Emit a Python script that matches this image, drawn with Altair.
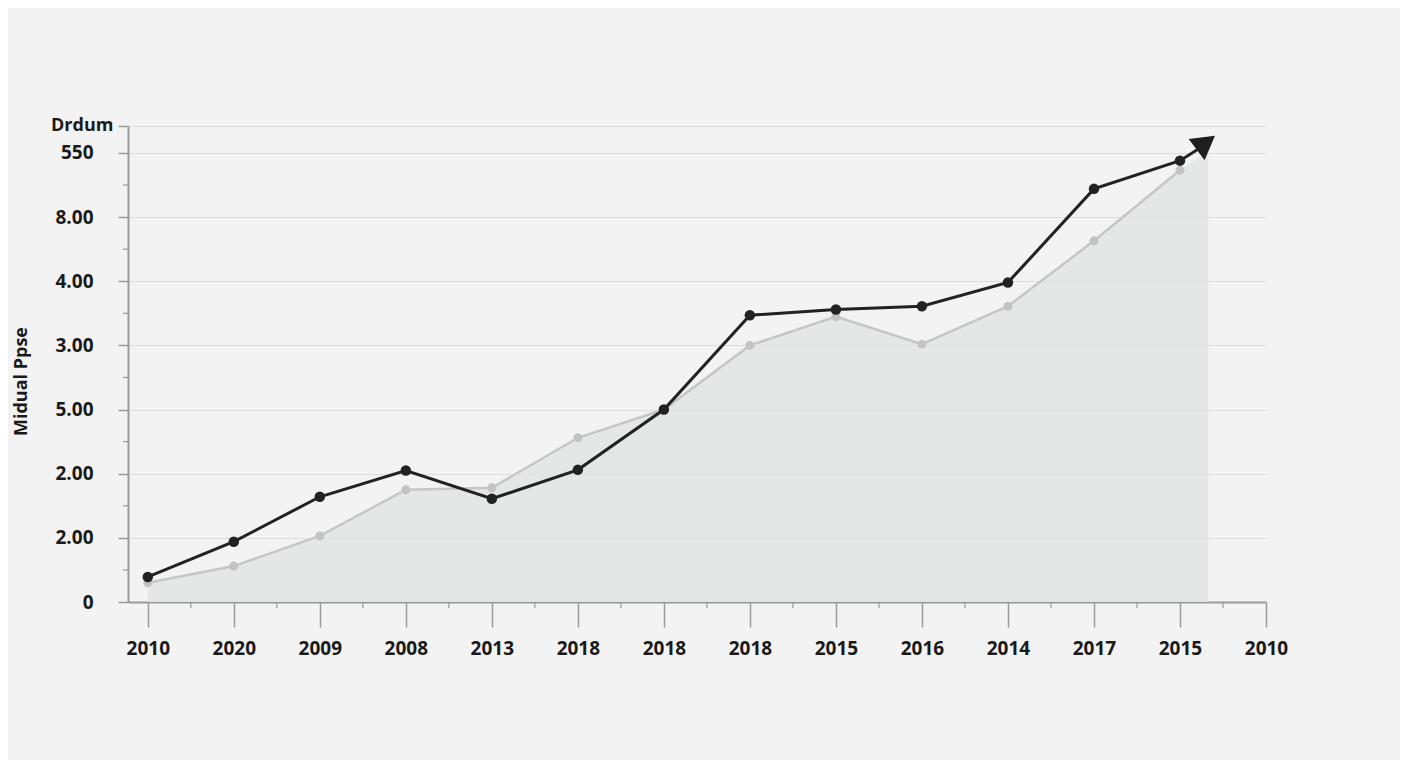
import altair as alt
import pandas as pd

x_labels = ["2010", "2020", "2009", "2008", "2013", "2018", "2018", "2018",
            "2015", "2016", "2014", "2017", "2015", "2010"]
y_labels = ["0", "2.00", "2.00", "5.00", "3.00", "4.00", "8.00", "550"]

black_vals = [0.39, 0.94, 1.64, 2.05, 1.61, 2.06, 3.0, 4.47, 4.56, 4.61, 4.98, 6.44, 6.88]
gray_vals = [0.30, 0.56, 1.03, 1.75, 1.78, 2.56, 3.0, 4.0, 4.45, 4.02, 4.61, 5.63, 6.73]

black_end = (12.2, 7.05)
arrow_pos = (12.3, 7.16)
area_end = (12.33, 7.03)

Y_TOP = 7.42
X_MIN = -0.23
X_MAX = 13

FONT = "Open Sans"

black_df = pd.DataFrame({"i": list(range(len(black_vals))), "v": black_vals})
black_line_df = pd.DataFrame({"i": list(range(len(black_vals))) + [black_end[0]],
                              "v": black_vals + [black_end[1]]})
gray_df = pd.DataFrame({"i": list(range(len(gray_vals))), "v": gray_vals})
area_df = pd.DataFrame({"i": list(range(len(gray_vals))) + [area_end[0]],
                        "v": gray_vals + [area_end[1]]})
arrow_df = pd.DataFrame({"i": [arrow_pos[0]], "v": [arrow_pos[1]]})
xminor_df = pd.DataFrame({"i": [k + 0.5 for k in range(len(x_labels) - 1)]})
yminor_df = pd.DataFrame({"v": [k + 0.5 for k in range(len(y_labels) - 1)]})

xlab_js = "[" + ",".join("'" + s + "'" for s in x_labels) + "]"
ylab_js = "[" + ",".join("'" + s + "'" for s in y_labels) + "]"

x_scale = alt.Scale(domain=[X_MIN, X_MAX], nice=False, zero=False)
y_scale = alt.Scale(domain=[0, Y_TOP], nice=False, zero=True)

x_axis = alt.Axis(
    values=list(range(len(x_labels))),
    labelExpr=xlab_js + "[round(datum.value)]",
    title=None, grid=False, tickSize=25, labelPadding=12, labelFlush=False,
)
y_axis = alt.Axis(
    values=list(range(len(y_labels))) + [Y_TOP],
    labelExpr="datum.value > 7.2 ? '' : " + ylab_js + "[round(datum.value)]",
    title="Midual Ppse",
    grid=True, tickSize=10, labelPadding=25, labelFlush=False,
    gridColor="#dcdcdc", gridWidth=1.2,
    titleX=-107, titleY=255, titleAngle=-90, titleBaseline="middle", titleAlign="center",
)

X = alt.X("i:Q", scale=x_scale, axis=x_axis)
Y = alt.Y("v:Q", scale=y_scale, axis=y_axis)
Xn = alt.X("i:Q", scale=x_scale)
Yn = alt.Y("v:Q", scale=y_scale)

area = alt.Chart(area_df).mark_area(color="#e2e3e3", opacity=0.85, clip=False).encode(x=X, y=Y)

gray_line = alt.Chart(gray_df).mark_line(color="#c6c6c6", strokeWidth=2.5).encode(x=Xn, y=Yn)
gray_pts = alt.Chart(gray_df).mark_point(filled=True, color="#c3c3c3", size=80, opacity=1).encode(x=Xn, y=Yn)

black_line = alt.Chart(black_line_df).mark_line(color="#222222", strokeWidth=3).encode(x=Xn, y=Yn)
black_pts = alt.Chart(black_df).mark_point(filled=True, color="#222222", size=110, opacity=1).encode(x=Xn, y=Yn)

arrow = alt.Chart(arrow_df).mark_point(
    filled=True, color="#1e1e1e", shape="triangle-up", size=700, angle=53, opacity=1
).encode(x=Xn, y=Yn)

xminor = alt.Chart(xminor_df).mark_rule(color="#9a9a9a", strokeWidth=1.2).encode(
    x=alt.X("i:Q", scale=x_scale), y=alt.value(476), y2=alt.value(482)
)
yminor = alt.Chart(yminor_df).mark_rule(color="#9a9a9a", strokeWidth=1.2).encode(
    y=alt.Y("v:Q", scale=y_scale), x=alt.value(-5), x2=alt.value(0)
)

drdum = alt.Chart(pd.DataFrame({"t": ["Drdum"]})).mark_text(
    align="left", baseline="middle", font=FONT, fontSize=18, fontWeight="bold", color="#1a1a1a"
).encode(text="t:N", x=alt.value(-77), y=alt.value(0))

chart = alt.layer(
    area, gray_line, gray_pts, black_line, black_pts, arrow, xminor, yminor, drdum
).properties(
    width=1138, height=476,
    background="#f3f3f3",
    padding={"left": 120, "top": 118, "right": 134, "bottom": 158},
    autosize=alt.AutoSizeParams(type="none"),
).configure_view(
    stroke=None
).configure_axis(
    domainColor="#9a9a9a", domainWidth=2, tickColor="#9a9a9a", tickWidth=1.5,
    labelFont=FONT, labelFontSize=19, labelFontWeight="bold", labelColor="#1a1a1a",
    titleFont=FONT, titleFontSize=18, titleFontWeight="bold", titleColor="#1a1a1a",
)

chart.save("out.html", embed_options={"renderer": "svg", "actions": False})
